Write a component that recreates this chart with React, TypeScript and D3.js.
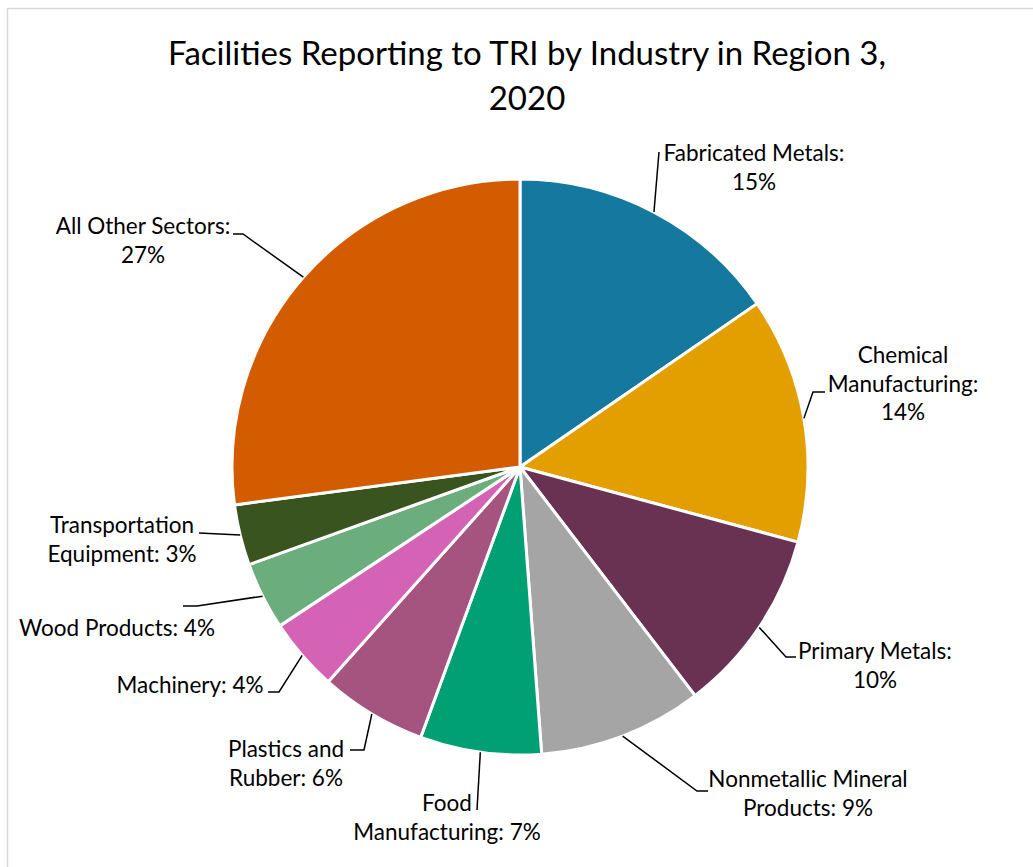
import { useMemo } from 'react';
import * as d3 from 'd3';

// Chart data (percent of facilities)
const categories = [
  'Fabricated Metals',
  'Chemical Manufacturing',
  'Primary Metals',
  'Nonmetallic Mineral Products',
  'Food Manufacturing',
  'Plastics and Rubber',
  'Machinery',
  'Wood Products',
  'Transportation Equipment',
  'All Other Sectors',
];
const shares = [15.4, 13.8, 10.4, 9.2, 6.8, 6.0, 4.1, 3.8, 3.4, 27.1];
const shareLabels = ['15%', '14%', '10%', '9%', '7%', '6%', '4%', '4%', '3%', '27%'];
const labelLines = [
  ['Fabricated Metals:', '15%'],
  ['Chemical', 'Manufacturing:', '14%'],
  ['Primary Metals:', '10%'],
  ['Nonmetallic Mineral', 'Products: 9%'],
  ['Food', 'Manufacturing: 7%'],
  ['Plastics and', 'Rubber: 6%'],
  ['Machinery: 4%'],
  ['Wood Products: 4%'],
  ['Transportation', 'Equipment: 3%'],
  ['All Other Sectors:', '27%'],
];
const colors = [
  '#15799f', '#e39f00', '#693252', '#a5a5a5', '#00a074',
  '#a4547f', '#d463b5', '#6bad7c', '#39541f', '#d45c00',
];

// Label layout: text x (anchor), first baseline, leader elbow + end
type LabelLayout = {
  x: number;
  y: number;
  leader: [number, number][];
};
const layout: LabelLayout[] = [
  { x: 754, y: 161, leader: [[659, 152]] },
  { x: 903, y: 363, leader: [[813, 392], [825, 392]] },
  { x: 875, y: 659, leader: [[786, 657], [796, 657]] },
  { x: 808, y: 787, leader: [[697, 791], [708, 791]] },
  { x: 447, y: 811, leader: [[477, 810]] },
  { x: 286, y: 757, leader: [[364, 750], [350, 750]] },
  { x: 190, y: 693, leader: [[279, 692], [268, 692]] },
  { x: 117, y: 636, leader: [[197, 606], [183, 606]] },
  { x: 122, y: 533, leader: [[199, 533]] },
  { x: 143, y: 234, leader: [[243, 234], [233, 234]] },
];

const WIDTH = 1033;
const HEIGHT = 867;
const CX = 520;
const CY = 467;
const R = 288;
const FONT = 'Lato, "Open Sans", sans-serif';

export default function App() {
  const arcs = useMemo(() => {
    const pie = d3.pie<number>().sort(null).value(d => d);
    return pie(shares);
  }, []);

  const arcPath = d3.arc<d3.PieArcDatum<number>>().innerRadius(0).outerRadius(R);
  const edge = d3.arc<d3.PieArcDatum<number>>().innerRadius(R).outerRadius(R);

  return (
    <svg
      width={WIDTH}
      height={HEIGHT}
      style={{ position: 'absolute', left: 0, top: 0, background: '#fff' }}
      fontFamily={FONT}
    >
      <rect x={7.5} y={8.5} width={WIDTH + 20} height={HEIGHT + 20} fill="#fff" stroke="#d9d9d9" strokeWidth={1.5} />

      <text x={527} y={65} textAnchor="middle" fontSize={33} fill="#000">
        <tspan x={527}>Facilities Reporting to TRI by Industry in Region 3,</tspan>
        <tspan x={527} dy={45}>2020</tspan>
      </text>

      <g transform={`translate(${CX},${CY})`}>
        {arcs.map((a, i) => (
          <path
            key={categories[i]}
            d={arcPath(a) || ''}
            fill={colors[i]}
            stroke="#fff"
            strokeWidth={3}
            strokeLinejoin="round"
          >
            <title>{`${categories[i]}: ${shareLabels[i]}`}</title>
          </path>
        ))}
      </g>

      {arcs.map((a, i) => {
        const [sx, sy] = edge.centroid(a);
        const pts: [number, number][] = [[CX + sx, CY + sy], ...layout[i].leader];
        return (
          <path
            key={`leader-${i}`}
            d={d3.line()(pts) || ''}
            fill="none"
            stroke="#000"
            strokeWidth={1.5}
          />
        );
      })}

      {labelLines.map((lines, i) => (
        <text
          key={`label-${i}`}
          x={layout[i].x}
          y={layout[i].y}
          textAnchor="middle"
          fontSize={22.5}
          fill="#000"
        >
          {lines.map((ln, j) => (
            <tspan key={j} x={layout[i].x} dy={j === 0 ? 0 : 28.5}>
              {ln}
            </tspan>
          ))}
        </text>
      ))}
    </svg>
  );
}
